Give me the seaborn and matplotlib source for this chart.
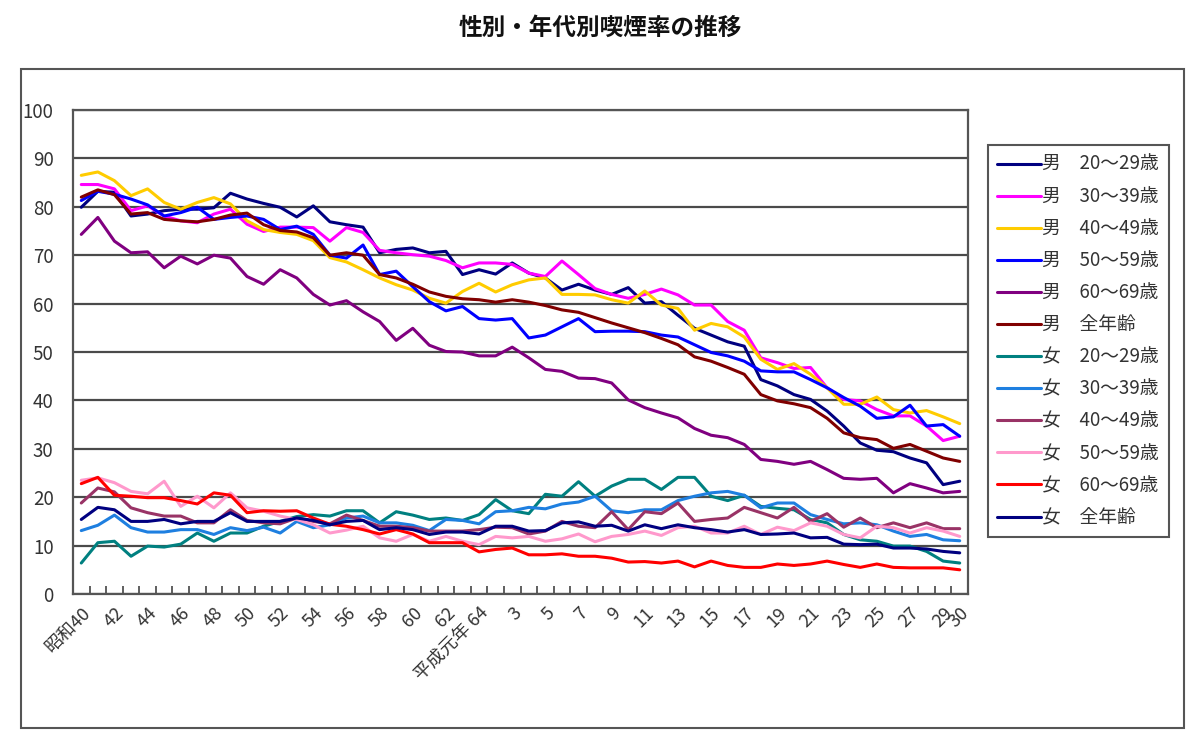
import numpy as np
import pandas as pd
import matplotlib
matplotlib.use("Agg")
import matplotlib.pyplot as plt
from matplotlib.patches import Rectangle
from matplotlib.ticker import FixedLocator
import seaborn as sns

# ---------------- data ----------------
years = list(range(1965, 2019))  # 昭和40 .. 平成30 (54 points)

tick_pos = [0, 2, 4, 6, 8, 10, 12, 14, 16, 18, 20, 22, 24, 26, 28, 30, 32,
            34, 36, 38, 40, 42, 44, 46, 48, 50, 52, 53]
tick_labels = ["昭和40", "42", "44", "46", "48", "50", "52", "54", "56", "58",
               "60", "62", "平成元年 64", "3", "5", "7", "9", "11", "13", "15",
               "17", "19", "21", "23", "25", "27", "29", "30"]

series_names = ["男　20～29歳", "男　30～39歳", "男　40～49歳", "男　50～59歳",
                "男　60～69歳", "男　全年齢", "女　20～29歳", "女　30～39歳",
                "女　40～49歳", "女　50～59歳", "女　60～69歳", "女　全年齢"]

m20 = [79.9, 83.2, 83.0, 78.1, 78.5, 79.2, 79.5, 79.5, 79.8, 82.8, 81.6, 80.7, 79.9, 77.9,
       80.2, 76.9, 76.3, 75.8, 70.5, 71.2, 71.5, 70.5, 70.8, 66.0, 67.0, 66.1, 68.4, 66.3,
       65.3, 62.8, 64.0, 62.8, 61.9, 63.3, 60.1, 60.4, 57.6, 54.9, 53.5, 52.1, 51.2, 44.3,
       43.0, 41.2, 40.2, 37.8, 34.7, 31.2, 29.7, 29.4, 28.1, 27.1, 22.6, 23.3]
m30 = [84.6, 84.6, 83.7, 79.2, 80.2, 78.1, 77.1, 76.7, 78.5, 79.5, 76.4, 74.9, 75.8, 75.8,
       75.7, 72.9, 75.7, 74.7, 71.0, 70.5, 70.1, 69.8, 68.9, 67.4, 68.4, 68.4, 68.1, 66.3,
       65.6, 68.8, 66.0, 63.1, 61.9, 61.1, 61.9, 63.0, 61.8, 59.7, 59.7, 56.3, 54.5, 48.8,
       47.8, 46.6, 46.8, 42.6, 40.2, 39.9, 38.1, 36.8, 36.8, 34.7, 31.7, 32.6]
m40 = [86.5, 87.2, 85.4, 82.3, 83.7, 80.9, 79.5, 80.9, 81.9, 80.6, 77.1, 75.3, 74.7, 74.3,
       73.0, 69.5, 68.6, 67.0, 65.3, 63.9, 62.8, 61.1, 60.1, 62.5, 64.2, 62.4, 63.9, 64.9,
       65.3, 61.9, 61.9, 61.8, 60.8, 60.1, 62.6, 59.7, 59.0, 54.5, 55.9, 55.2, 53.1, 48.5,
       46.4, 47.6, 45.4, 42.6, 39.2, 39.2, 40.7, 38.1, 37.4, 37.9, 36.6, 35.2]
m50 = [81.3, 83.2, 82.6, 81.6, 80.4, 78.1, 78.8, 79.9, 77.4, 77.8, 78.1, 77.4, 75.3, 76.0,
       74.3, 70.0, 69.4, 72.1, 66.0, 66.7, 63.5, 60.4, 58.5, 59.4, 56.9, 56.6, 56.9, 52.9,
       53.5, 55.2, 56.9, 54.2, 54.3, 54.3, 54.2, 53.5, 53.1, 51.5, 49.9, 49.2, 48.1, 46.1,
       45.9, 45.9, 44.3, 42.6, 40.6, 38.8, 36.3, 36.6, 39.0, 34.7, 35.0, 32.6]
m60 = [74.3, 77.8, 72.9, 70.5, 70.7, 67.4, 69.8, 68.2, 70.0, 69.4, 65.6, 64.0, 67.0, 65.3,
       61.9, 59.7, 60.6, 58.3, 56.3, 52.4, 54.9, 51.4, 50.1, 50.0, 49.2, 49.2, 51.0, 48.8,
       46.4, 46.0, 44.6, 44.5, 43.6, 40.1, 38.5, 37.4, 36.4, 34.2, 32.8, 32.3, 30.9, 27.8,
       27.4, 26.8, 27.4, 25.7, 23.9, 23.7, 23.9, 20.9, 22.8, 21.9, 20.9, 21.2]
m_all = [82.0, 83.5, 82.5, 78.5, 78.8, 77.4, 77.1, 76.9, 77.4, 78.3, 78.7, 76.3, 75.1, 74.8,
         73.6, 70.0, 70.5, 70.0, 66.0, 65.3, 64.0, 62.4, 61.5, 61.0, 60.8, 60.3, 60.8, 60.3,
         59.6, 58.7, 58.2, 57.1, 56.0, 55.0, 54.0, 52.8, 51.5, 49.0, 48.1, 46.8, 45.4, 41.2,
         39.9, 39.3, 38.5, 36.3, 33.3, 32.3, 31.9, 30.1, 30.9, 29.5, 28.1, 27.4]
f20 = [6.4, 10.6, 10.9, 7.8, 9.9, 9.7, 10.3, 12.6, 10.9, 12.6, 12.6, 14.0, 15.0, 16.0,
       16.4, 16.1, 17.2, 17.2, 14.7, 17.0, 16.3, 15.4, 15.7, 15.2, 16.4, 19.5, 17.2, 16.6,
       20.6, 20.2, 23.2, 20.2, 22.3, 23.7, 23.7, 21.6, 24.1, 24.1, 20.2, 19.3, 20.4, 18.1,
       17.7, 17.4, 15.4, 14.7, 12.3, 11.2, 10.9, 9.9, 9.9, 8.8, 6.8, 6.4]
f30 = [13.1, 14.2, 16.3, 13.7, 12.8, 12.8, 13.3, 13.3, 12.3, 13.7, 13.1, 13.8, 12.6, 15.0,
       13.7, 14.3, 15.7, 16.1, 14.7, 14.7, 14.2, 13.1, 15.4, 15.2, 14.5, 17.0, 17.2, 17.9,
       17.6, 18.6, 19.0, 20.2, 17.2, 16.8, 17.4, 17.4, 19.3, 20.2, 20.9, 21.2, 20.4, 17.8,
       18.8, 18.8, 16.4, 15.4, 14.5, 14.7, 14.3, 13.0, 11.9, 12.3, 11.2, 11.0]
f40 = [18.8, 21.9, 21.1, 17.8, 16.8, 16.1, 16.1, 14.7, 14.7, 17.4, 15.2, 14.7, 14.5, 15.7,
       15.0, 14.5, 16.3, 15.2, 14.0, 14.0, 13.7, 13.0, 13.0, 13.0, 13.3, 13.8, 13.7, 12.4,
       13.0, 15.0, 14.0, 13.7, 17.0, 13.3, 17.0, 16.6, 18.8, 15.0, 15.4, 15.7, 17.9, 16.8,
       15.7, 17.9, 15.0, 16.6, 13.8, 15.7, 13.7, 14.7, 13.7, 14.7, 13.5, 13.5]
f50 = [23.5, 24.0, 23.0, 21.2, 20.7, 23.3, 18.1, 20.2, 17.8, 20.9, 17.8, 17.1, 16.1, 15.4,
       14.3, 12.6, 13.2, 14.0, 11.6, 10.9, 12.3, 10.9, 11.9, 10.9, 10.2, 11.9, 11.6, 11.9,
       10.9, 11.4, 12.4, 10.8, 11.9, 12.3, 13.0, 12.1, 13.7, 14.0, 12.6, 12.6, 14.0, 12.3,
       13.8, 13.1, 14.7, 14.0, 12.3, 11.6, 14.0, 13.7, 12.6, 13.7, 13.0, 11.9]
f60 = [22.8, 24.1, 20.4, 20.2, 19.9, 19.9, 19.3, 18.6, 20.9, 20.4, 16.8, 17.2, 17.1, 17.2,
       15.7, 14.4, 14.0, 13.3, 12.4, 13.3, 12.4, 10.6, 10.6, 10.6, 8.7, 9.2, 9.5, 8.1,
       8.1, 8.3, 7.8, 7.8, 7.4, 6.6, 6.7, 6.4, 6.8, 5.6, 6.8, 5.9, 5.5, 5.5, 6.2, 5.9,
       6.2, 6.8, 6.1, 5.5, 6.2, 5.5, 5.4, 5.4, 5.4, 5.0]
f_all = [15.4, 17.9, 17.4, 15.0, 15.0, 15.4, 14.5, 15.0, 15.0, 16.8, 15.0, 15.0, 15.0, 15.7,
         15.2, 14.3, 15.0, 15.2, 13.3, 13.7, 13.3, 12.3, 12.8, 12.8, 12.4, 14.0, 14.0, 13.0,
         13.1, 14.7, 14.9, 14.0, 14.2, 13.0, 14.3, 13.5, 14.3, 13.7, 13.3, 12.8, 13.3, 12.3,
         12.4, 12.6, 11.6, 11.7, 10.3, 10.2, 10.3, 9.5, 9.5, 9.3, 8.8, 8.5]

colors = ["#000080", "#FF00FF", "#FFCC00", "#0000FF", "#800080", "#800000",
          "#008080", "#1E7FE0", "#993366", "#FF99CC", "#FF0000", "#000080"]

all_series = [m20, m30, m40, m50, m60, m_all, f20, f30, f40, f50, f60, f_all]

# ---------------- frame ----------------
rows = []
for name, vals in zip(series_names, all_series):
    for i, v in enumerate(vals):
        rows.append({"idx": i, "year": years[i], "series": name, "rate": v})
df = pd.DataFrame(rows)

sns.set_theme(style="white")
plt.rcParams["font.family"] = ["Noto Sans CJK JP", "DejaVu Sans"]

W, H = 1200, 739
fig = plt.figure(figsize=(W / 100, H / 100), dpi=100)
L, R, T, B = 73, 968, 110, 594
ax = fig.add_axes([L / W, 1 - B / H, (R - L) / W, (B - T) / H])

palette = dict(zip(series_names, colors))
sns.lineplot(data=df, x="idx", y="rate", hue="series", hue_order=series_names,
             palette=palette, linewidth=2.2, sort=False, estimator=None, ax=ax,
             legend=True)

ax.set_xlim(-0.5, len(years) - 0.5)
ax.set_ylim(0, 100)
ax.set_yticks(np.arange(0, 101, 10))
ax.yaxis.grid(True, color="#4a4a4a", linewidth=1.6)
ax.xaxis.grid(False)
ax.set_axisbelow(True)
ax.tick_params(axis="y", length=0, pad=14, labelsize=13.5, labelcolor="#333333")

ax.set_xticks(tick_pos)
ax.set_xticklabels(tick_labels, rotation=45, ha="right", va="top",
                   rotation_mode="anchor", fontsize=13, color="#333333")
ax.tick_params(axis="x", which="major", length=0, pad=7)
ax.xaxis.set_minor_locator(FixedLocator(np.arange(0.5, len(years) - 1, 1.0)))
ax.tick_params(axis="x", which="minor", direction="in", length=6, width=1.2,
               color="#444444", bottom=True)
ax.set_xlabel("")
ax.set_ylabel("")
for s in ax.spines.values():
    s.set_visible(True)
    s.set_color("#555555")
    s.set_linewidth(1.6)

# legend
handles, labels = ax.get_legend_handles_labels()
if ax.legend_:
    ax.legend_.remove()
leg = fig.legend(handles, labels, loc="upper left",
                 bbox_to_anchor=(988 / W, 1 - 145 / H), bbox_transform=fig.transFigure,
                 frameon=True, fancybox=False, edgecolor="#555555", framealpha=1,
                 fontsize=13.5, handlelength=2.3, handletextpad=0.1,
                 labelspacing=0.59, borderpad=0.5, borderaxespad=0)
leg.get_frame().set_linewidth(1.5)
for t in leg.get_texts():
    t.set_color("#333333")

# title
fig.text(600 / W, 1 - 28 / H, "性別・年代別喫煙率の推移", ha="center", va="center",
         fontsize=17, fontweight="bold", color="#111111")

# outer frame
fig.patches.append(Rectangle((21 / W, 1 - 728 / H), (1184 - 21) / W, (728 - 69) / H,
                             transform=fig.transFigure, fill=False,
                             edgecolor="#555555", linewidth=1.5))

fig.savefig("out.png", dpi=100, facecolor="white")
